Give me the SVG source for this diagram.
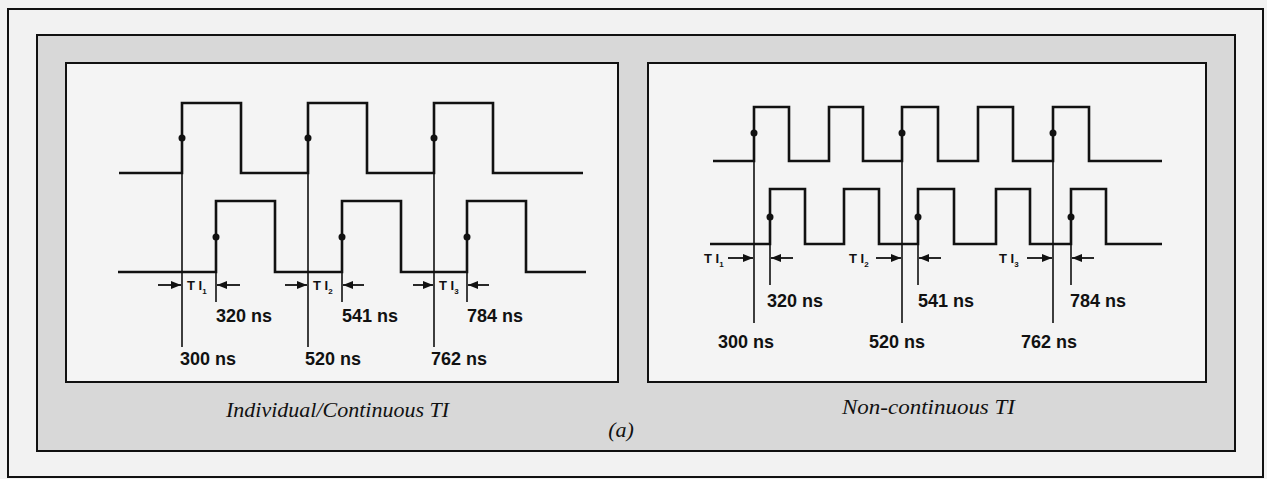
<svg xmlns="http://www.w3.org/2000/svg" width="1267" height="479" viewBox="0 0 1267 479">
<style>
.wave{fill:none;stroke:#111;stroke-width:2.6;stroke-linejoin:miter}
.vl{fill:none;stroke:#111;stroke-width:1.6}
.arr{fill:none;stroke:#111;stroke-width:1.8}
.dot{fill:#111}
.ns{font-family:"Liberation Sans",Arial,sans-serif;font-weight:bold;font-size:18px;fill:#111}
.ti{font-family:"Liberation Sans",Arial,sans-serif;font-weight:bold;font-size:13px;fill:#111}
.sub{font-size:8px}
.cap{font-family:"Liberation Serif","Times New Roman",serif;font-style:italic;font-size:22px;fill:#111}
.frame{stroke:#111;stroke-width:2}
</style>
<defs>
<marker id="ah" viewBox="0 0 10 8" refX="10" refY="4" markerWidth="10" markerHeight="8" markerUnits="userSpaceOnUse" orient="auto">
<path d="M0,0 L10,4 L0,8 Z" fill="#111"/>
</marker>
</defs>
<rect x="0" y="0" width="1267" height="479" fill="#f2f2f2"/>
<g id="outer">
<rect x="8" y="9" width="1255" height="468" fill="#f2f2f2" class="frame"/>
</g>
<g id="panel">
<rect x="37" y="35" width="1198" height="416" fill="#d8d8d8" class="frame"/>
</g>
<g id="left-panel">
<rect x="66" y="63" width="552" height="319" fill="#f4f4f4" class="frame"/>
<path class="wave" d="M119,173 H182 V103 H241 V173 H308 V103 H367 V173 H434 V103 H493 V173 H583"/>
<path class="wave" d="M118,272 H216 V201 H275 V272 H342 V201 H401 V272 H467 V201 H526 V272 H586"/>
<circle class="dot" cx="182" cy="138" r="3.5"/>
<circle class="dot" cx="308" cy="138" r="3.5"/>
<circle class="dot" cx="434" cy="138" r="3.5"/>
<circle class="dot" cx="216" cy="237" r="3.5"/>
<circle class="dot" cx="342" cy="237" r="3.5"/>
<circle class="dot" cx="467" cy="237" r="3.5"/>
<text class="ti" x="187" y="290">T I<tspan class="sub" dy="4">1</tspan></text>
<text class="ti" x="313" y="290">T I<tspan class="sub" dy="4">2</tspan></text>
<text class="ti" x="439" y="290">T I<tspan class="sub" dy="4">3</tspan></text>
<text class="ns" x="216" y="322">320 ns</text>
<text class="ns" x="342" y="322">541 ns</text>
<text class="ns" x="467" y="322">784 ns</text>
<text class="ns" x="180" y="365">300 ns</text>
<text class="ns" x="305" y="365">520 ns</text>
<text class="ns" x="431" y="365">762 ns</text>
</g>
<g id="right-panel">
<rect x="648" y="63" width="558" height="319" fill="#f4f4f4" class="frame"/>
<path class="wave" d="M713,161 H754 V107 H789 V161 H829 V107 H863 V161 H902 V107 H938 V161 H978 V107 H1013 V161 H1053 V107 H1089 V161 H1162"/>
<path class="wave" d="M710,244 H770 V189 H805 V244 H844 V189 H879 V244 H918 V189 H954 V244 H996 V189 H1030 V244 H1071 V189 H1106 V244 H1162"/>
<circle class="dot" cx="754" cy="133" r="3.5"/>
<circle class="dot" cx="902" cy="133" r="3.5"/>
<circle class="dot" cx="1053" cy="133" r="3.5"/>
<circle class="dot" cx="770" cy="217" r="3.5"/>
<circle class="dot" cx="918" cy="217" r="3.5"/>
<circle class="dot" cx="1071" cy="217" r="3.5"/>
<text class="ti" x="704" y="263">T I<tspan class="sub" dy="4">1</tspan></text>
<text class="ti" x="849" y="263">T I<tspan class="sub" dy="4">2</tspan></text>
<text class="ti" x="999" y="263">T I<tspan class="sub" dy="4">3</tspan></text>
<text class="ns" x="767" y="307">320 ns</text>
<text class="ns" x="918" y="307">541 ns</text>
<text class="ns" x="1070" y="307">784 ns</text>
<text class="ns" x="718" y="348">300 ns</text>
<text class="ns" x="869" y="348">520 ns</text>
<text class="ns" x="1021" y="348">762 ns</text>
</g>
<g id="connectors">
<path class="vl" d="M182,173 V347 M308,173 V347 M434,173 V347"/>
<path class="vl" d="M216,272 V302 M342,272 V302 M467,272 V302"/>
<path class="vl" d="M754,161 V323 M902,161 V323 M1053,161 V323"/>
<path class="vl" d="M770,244 V285 M918,244 V285 M1071,244 V285"/>
<line class="arr" x1="158" y1="285" x2="181" y2="285" marker-end="url(#ah)"/>
<line class="arr" x1="240" y1="285" x2="217" y2="285" marker-end="url(#ah)"/>
<line class="arr" x1="285" y1="285" x2="307" y2="285" marker-end="url(#ah)"/>
<line class="arr" x1="364" y1="285" x2="343" y2="285" marker-end="url(#ah)"/>
<line class="arr" x1="413" y1="285" x2="433" y2="285" marker-end="url(#ah)"/>
<line class="arr" x1="489" y1="285" x2="468" y2="285" marker-end="url(#ah)"/>
<line class="arr" x1="728" y1="258" x2="753" y2="258" marker-end="url(#ah)"/>
<line class="arr" x1="793" y1="258" x2="771" y2="258" marker-end="url(#ah)"/>
<line class="arr" x1="876" y1="258" x2="901" y2="258" marker-end="url(#ah)"/>
<line class="arr" x1="941" y1="258" x2="919" y2="258" marker-end="url(#ah)"/>
<line class="arr" x1="1027" y1="258" x2="1052" y2="258" marker-end="url(#ah)"/>
<line class="arr" x1="1094" y1="258" x2="1072" y2="258" marker-end="url(#ah)"/>
</g>
<g id="captions">
<text class="cap" x="226" y="417" textLength="223" lengthAdjust="spacingAndGlyphs">Individual/Continuous TI</text>
<text class="cap" x="842" y="414" textLength="173" lengthAdjust="spacingAndGlyphs">Non-continuous TI</text>
<text class="cap" x="621" y="437" text-anchor="middle">(a)</text>
</g>
</svg>
